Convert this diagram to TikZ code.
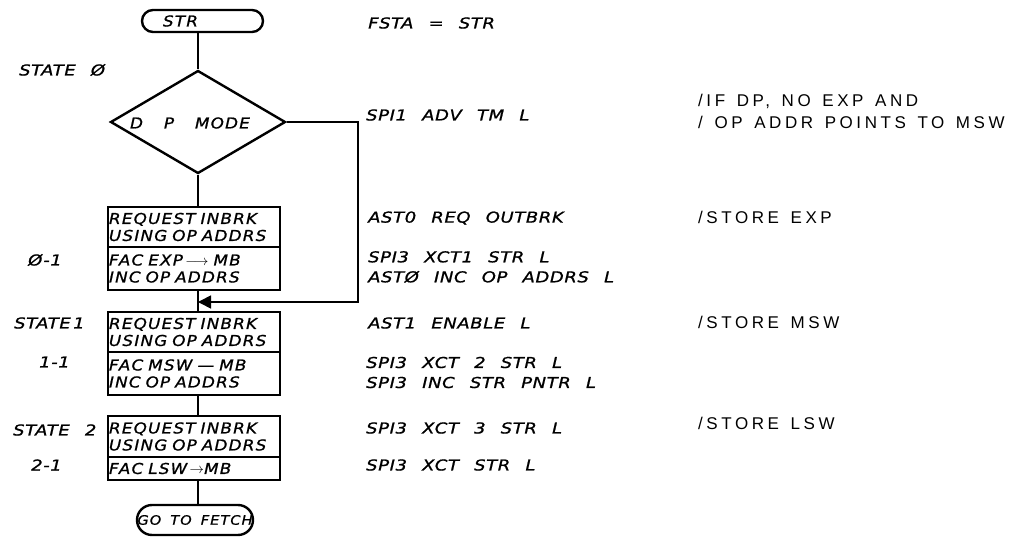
\documentclass[tikz,border=0pt]{standalone}
\usepackage{fontspec}
\setmainfont{DejaVu Sans}
\newfontfamily\boxhand{DejaVu Sans}[FakeStretch=1.12,LetterSpace=8,WordSpace=1.6,FakeBold=1]
\newfontfamily\codehand{DejaVu Sans}[FakeStretch=1.2,LetterSpace=4,WordSpace=2.4,FakeBold=1]
\newfontfamily\notehand{Liberation Sans}[LetterSpace=21,WordSpace=1.4]
\newcommand\boxfont{\boxhand\itshape\fontsize{15}{17}\selectfont}
\newcommand\smallbox{\boxhand\itshape\fontsize{13}{16}\selectfont}
\newcommand\codefont{\codehand\itshape\fontsize{15}{20}\selectfont}
\newcommand\notefont{\notehand\fontsize{17}{22}\selectfont}
\usepackage{tikz}
\usetikzlibrary{shapes,arrows.meta,positioning}

\begin{document}
\begin{tikzpicture}[x=1pt,y=-1pt,line width=2.4pt,
  term/.style={draw,rounded corners=11pt,minimum height=22pt,inner sep=0pt,font=\boxfont},
  cell/.style={draw,minimum width=172pt,text width=170pt,align=left,inner xsep=1pt,inner ysep=3pt,outer sep=0pt,font=\boxfont},
  decision/.style={draw,diamond,minimum width=175pt,minimum height=103pt,inner sep=0pt},
  microop/.style={anchor=west,align=left,inner sep=0pt,font=\codefont},
  comment/.style={anchor=west,align=left,inner sep=0pt,font=\notefont},
  stlabel/.style={anchor=west,inner sep=0pt,font=\codefont},
  back/.style={line width=1.6pt,-{Triangle[length=13pt,width=13pt]}}]
\useasboundingbox (0,0) rectangle (1029,540);

% flow chart
\node[term,text width=79pt,align=left,inner xsep=21pt] (str) at (202.5,21) {STR};
\node[decision] (dp) at (198,122) {};
\node[font=\boxfont] (dptxt) at (190,123) {D\ \ P\ \ MODE};
\node[cell,minimum height=40pt] (s0a) at (194,227) {REQUEST INBRK\\USING OP ADDRS};
\node[cell,minimum height=43pt,below=0pt of s0a] (s0b) {FAC EXP$\,\longrightarrow$ MB\\INC OP ADDRS};
\node[cell,minimum height=40pt] (s1a) at (194,332) {REQUEST INBRK\\USING OP ADDRS};
\node[cell,minimum height=43pt,below=0pt of s1a] (s1b) {FAC MSW — MB\\INC OP ADDRS};
\node[cell,minimum height=41pt] (s2a) at (194,436.5) {REQUEST INBRK\\USING OP ADDRS};
\node[cell,minimum height=23pt,below=0pt of s2a] (s2b) {FAC LSW$\,\rightarrow$MB};
\node[term,font=\smallbox,minimum width=116pt,minimum height=30pt,rounded corners=15pt] (fetch) at (195,520) {GO TO FETCH};

\draw (dp.north |- str.south) -- (dp.north);
\draw (dp.south) -- (dp.south |- s0a.north);
\draw (dp.south |- s0b.south) -- (dp.south |- s1a.north);
\draw (dp.south |- s1b.south) -- (dp.south |- s2a.north);
\draw (dp.south |- s2b.south) -- (dp.south |- fetch.north);
\coordinate (side) at (358,302);
\coordinate (join) at (side -| dp.south);
\draw[back] (dp.east) -| (side) -- (join);

% state labels
\node[stlabel] (st0) at (18,70) {STATE Ø};
\node[stlabel] (st01) at (27,260) {Ø-1};
\node[stlabel] (st1) at (13,323) {STATE\,1};
\node[stlabel] (st11) at (38,362) {1-1};
\node[stlabel] (st2) at (12,430) {STATE 2};
\node[stlabel] (st21) at (30,465) {2-1};

% micro-ops
\node[microop] (fsta) at (367,23) {FSTA = STR};
\node[microop] (op1) at (365,115) {SPI1 ADV TM L};
\node[microop] (op2) at (367,218) {AST0 REQ OUTBRK};
\node[microop] (op3) at (367,267) {SPI3 XCT1 STR L\\ASTØ INC OP ADDRS L};
\node[microop] (op4) at (367,323) {AST1 ENABLE L};
\node[microop] (op5) at (365,372.5) {SPI3 XCT 2 STR L\\SPI3 INC STR PNTR L};
\node[microop] (op6) at (365,428) {SPI3 XCT 3 STR L};
\node[microop] (op7) at (365,465) {SPI3 XCT STR L};

% comments
\node[comment] (c1) at (697,111) {/IF DP, NO EXP AND\\/ OP ADDR POINTS TO MSW};
\node[comment] (c2) at (697,217) {/STORE EXP};
\node[comment] (c3) at (697,322) {/STORE MSW};
\node[comment] (c4) at (697,423) {/STORE LSW};

\end{tikzpicture}
\end{document}
